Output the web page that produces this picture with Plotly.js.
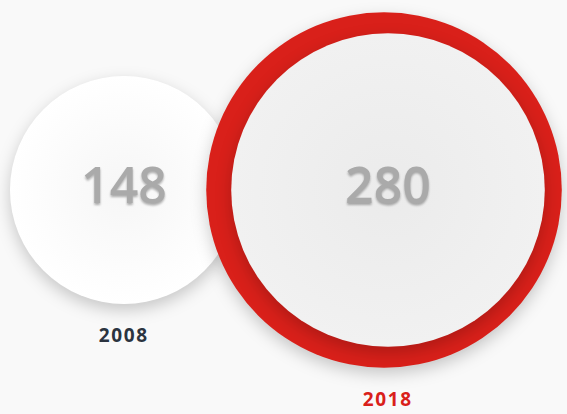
<!DOCTYPE html>
<html>
<head>
<meta charset="utf-8">
<script src="https://cdn.plot.ly/plotly-3.0.1.min.js"></script>
<style>
html,body{margin:0;padding:0;background:#f9f9f9;}
#chart{width:567px;height:414px;}
.js-plotly-plot .scatterlayer path.point{filter:drop-shadow(0px 6px 8px rgba(0,0,0,0.2));}
.js-plotly-plot .scatterlayer .textpoint text{filter:drop-shadow(0px 2px 1px rgba(0,0,0,0.3));}
.js-plotly-plot .annotation-text{letter-spacing:1.6px;}
</style>
</head>
<body>
<div id="chart"></div>
<script>
var years = ['2008', '2018'];
var values = [148, 280];
var highlight = [false, true];

var scale = 9.37;          // px of radius per sqrt(value)
var ringWidth = 21;
var ringShift = -4 / 264;  // ring sits slightly left of the inner disc
var bubbleColors = ['#ffffff', '#f1f1f1'];
var edgeColors = ['#f6f6f6', '#ebebeb'];
var yearColors = ['#2b3440', '#d9201a'];
var ringColor = '#d9201a';

var idx = years.map(function(_, i){ return i; });
var traces = [];
var annotations = [];
idx.forEach(function(i){
  var r = scale * Math.sqrt(values[i]);
  var outer = r + (highlight[i] ? ringWidth : 0);
  if (highlight[i]) {
    traces.push({
      type:'scatter', mode:'markers', x:[i + ringShift], y:[0], hoverinfo:'skip',
      marker:{size:2*outer, color:ringColor, line:{width:0}}
    });
  }
  traces.push({
    type:'scatter', mode:'markers+text', x:[i], y:[0], hoverinfo:'skip',
    text:[String(values[i])], textposition:'middle center',
    textfont:{family:'Open Sans', size:50, color:'#aaaaaa', weight:600},
    marker:{size:2*r, color:bubbleColors[i], line:{width:0},
            gradient:{type:'radial', color:edgeColors[i]}}
  });
  annotations.push({
    x:i, y:-(outer + 31), xref:'x', yref:'y', showarrow:false,
    text:'<b>'+years[i]+'</b>',
    font:{family:'Open Sans', size:19, color:yearColors[i]}
  });
});

var layout = {
  width:567, height:414,
  margin:{l:0,r:0,t:0,b:0},
  paper_bgcolor:'#f9f9f9', plot_bgcolor:'#f9f9f9',
  showlegend:false,
  xaxis:{range:[-124/264, 443/264], visible:false, fixedrange:true},
  yaxis:{range:[-224, 190], visible:false, fixedrange:true},
  annotations:annotations
};

Plotly.newPlot('chart', traces, layout, {displayModeBar:false, staticPlot:true});
</script>
</body>
</html>
